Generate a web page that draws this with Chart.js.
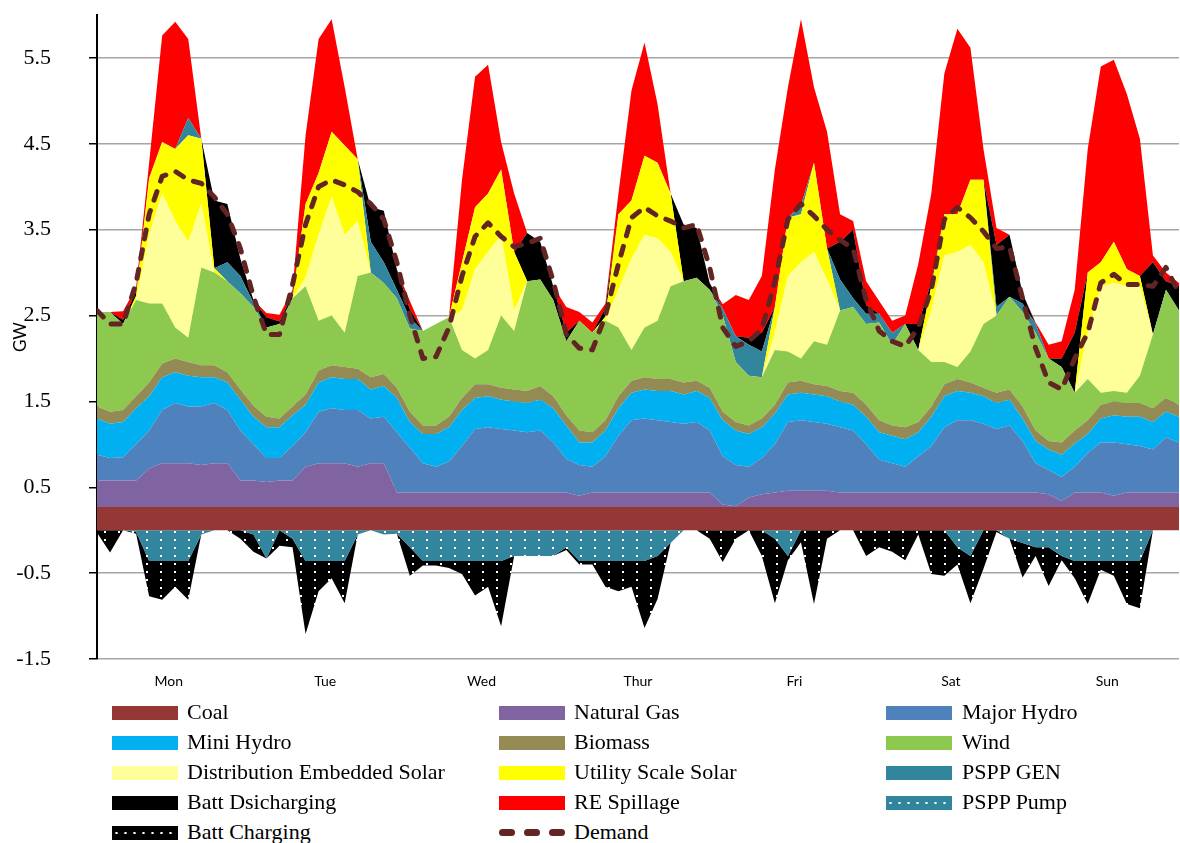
<!DOCTYPE html>
<html><head><meta charset="utf-8">
<script src="https://cdn.jsdelivr.net/npm/chart.js@4.4.1/dist/chart.umd.min.js"></script>
<style>
html,body{margin:0;padding:0;background:#fff;overflow:hidden;}
#wrap{position:relative;width:1180px;height:843px;overflow:hidden;background:#fff;}
#cw{position:absolute;left:0;top:0;width:1180px;height:700px;}
.lt{position:absolute;font-family:"Liberation Serif",serif;font-size:22px;line-height:26px;color:#000;white-space:nowrap;}
.sw{position:absolute;width:66px;height:14px;}
.dash{position:absolute;height:7px;width:16px;border-radius:4px;background:#632523;}
</style></head><body>
<div id="wrap"><div id="cw"><canvas id="c"></canvas></div><div id="legend"></div></div>
<script>
// x values: hour of week (2-hour steps)
const hours = [0,2,4,6,8,10,12,14,16,18,20,22,24,26,28,30,32,34,36,38,40,42,44,46,48,50,52,54,56,58,60,62,64,66,68,70,72,74,76,78,80,82,84,86,88,90,92,94,96,98,100,102,104,106,108,110,112,114,116,118,120,122,124,126,128,130,132,134,136,138,140,142,144,146,148,150,152,154,156,158,160,162,164,166];
const dayTickHours = [11,35,59,83,107,131,155];
const dayNames = ['Mon','Tue','Wed','Thur','Fri','Sat','Sun'];
const yTicks = [-1.5,-0.5,0.5,1.5,2.5,3.5,4.5,5.5];

const coal = [0.27,0.27,0.27,0.27,0.27,0.27,0.27,0.27,0.27,0.27,0.27,0.27,0.27,
0.27,0.27,0.27,0.27,0.27,0.27,0.27,0.27,0.27,0.27,0.27,0.27,
0.27,0.27,0.27,0.27,0.27,0.27,0.27,0.27,0.27,0.27,0.27,0.27,
0.27,0.27,0.27,0.27,0.27,0.27,0.27,0.27,0.27,0.27,0.27,0.27,
0.27,0.27,0.27,0.27,0.27,0.27,0.27,0.27,0.27,0.27,0.27,0.27,
0.27,0.27,0.27,0.27,0.27,0.27,0.27,0.27,0.27,0.27,0.27,0.27,
0.27,0.27,0.27,0.27,0.27,0.27,0.27,0.27,0.27,0.27,0.27];
const gas = [0.31,0.31,0.31,0.31,0.45,0.51,0.51,0.51,0.49,0.51,0.51,0.31,0.31,
0.29,0.31,0.31,0.47,0.51,0.51,0.51,0.47,0.51,0.51,0.17,0.17,
0.17,0.17,0.17,0.17,0.17,0.17,0.17,0.17,0.17,0.17,0.17,0.17,
0.13,0.17,0.17,0.17,0.17,0.17,0.17,0.17,0.17,0.17,0.17,0.03,
0.01,0.11,0.15,0.17,0.19,0.19,0.19,0.19,0.17,0.17,0.17,0.17,
0.17,0.17,0.17,0.17,0.17,0.17,0.17,0.17,0.17,0.17,0.17,0.17,
0.15,0.07,0.17,0.17,0.17,0.13,0.17,0.17,0.17,0.17,0.17];
const majorHydro = [0.30,0.26,0.27,0.42,0.44,0.62,0.70,0.66,0.68,0.70,0.62,0.58,0.42,
0.28,0.26,0.40,0.40,0.60,0.64,0.62,0.66,0.52,0.54,0.70,0.52,
0.34,0.30,0.36,0.54,0.74,0.76,0.74,0.72,0.70,0.72,0.58,0.39,
0.36,0.30,0.42,0.66,0.84,0.86,0.84,0.82,0.80,0.82,0.72,0.56,
0.48,0.36,0.42,0.56,0.80,0.82,0.80,0.78,0.76,0.72,0.56,0.38,
0.34,0.30,0.42,0.54,0.76,0.84,0.84,0.80,0.74,0.78,0.60,0.34,
0.28,0.28,0.30,0.46,0.58,0.62,0.56,0.54,0.50,0.64,0.58];
const miniHydro = [0.42,0.40,0.41,0.42,0.40,0.38,0.36,0.36,0.34,0.30,0.32,0.36,0.32,
0.36,0.36,0.36,0.32,0.34,0.36,0.36,0.36,0.34,0.36,0.40,0.30,
0.34,0.38,0.40,0.42,0.36,0.36,0.34,0.34,0.34,0.36,0.40,0.39,
0.26,0.28,0.30,0.32,0.32,0.34,0.34,0.36,0.34,0.36,0.38,0.42,
0.40,0.38,0.36,0.36,0.32,0.32,0.32,0.32,0.30,0.30,0.32,0.32,
0.32,0.32,0.28,0.34,0.36,0.34,0.32,0.32,0.30,0.30,0.26,0.26,
0.24,0.26,0.27,0.22,0.28,0.32,0.32,0.34,0.32,0.30,0.30];
const biomass = [0.14,0.14,0.14,0.14,0.16,0.16,0.16,0.16,0.14,0.14,0.12,0.12,0.13,
0.12,0.10,0.10,0.12,0.14,0.14,0.14,0.12,0.14,0.14,0.12,0.12,
0.10,0.10,0.12,0.14,0.16,0.14,0.14,0.14,0.14,0.16,0.14,0.12,
0.14,0.12,0.12,0.14,0.14,0.14,0.14,0.14,0.14,0.12,0.12,0.10,
0.10,0.10,0.10,0.10,0.14,0.14,0.12,0.12,0.12,0.14,0.14,0.14,
0.12,0.14,0.12,0.12,0.14,0.14,0.12,0.10,0.12,0.12,0.14,0.12,
0.10,0.14,0.15,0.16,0.16,0.16,0.16,0.16,0.16,0.16,0.14];
const wind = [1.10,1.16,1.00,1.12,0.92,0.70,0.36,0.28,1.14,1.08,1.06,1.12,1.15,
1.04,1.10,1.26,1.26,0.58,0.58,0.40,1.08,1.22,1.06,1.04,0.97,
1.10,1.18,1.16,0.56,0.30,0.40,0.84,0.68,1.28,1.24,1.12,0.86,
1.28,1.16,1.16,0.80,0.36,0.58,0.68,1.08,1.18,1.20,1.14,1.12,
0.70,0.58,0.48,0.64,0.36,0.26,0.50,0.48,0.94,1.00,0.94,1.14,
0.94,1.20,0.84,0.52,0.26,0.14,0.36,0.74,0.90,1.08,1.10,1.14,
0.96,0.88,0.44,0.48,0.14,0.12,0.12,0.32,0.86,1.26,1.10];
const distSolar = [0,0,0,0,0.80,1.28,1.24,1.12,0.74,0,0,0,0,
0,0,0,0.10,1.00,1.38,1.14,0.64,0,0,0,0,
0,0,0,0.46,1.04,1.14,0.94,0.24,0,0,0,0,
0,0,0,0.44,1.06,1.08,0.96,0.40,0,0,0,0,
0,0,0,0.20,0.88,1.12,1.04,0.76,0,0,0,0,
0,0,0,0.60,1.24,1.34,1.24,0.72,0,0,0,0,
0,0,0,0.54,1.24,1.26,1.24,1.04,0,0,0];
const utilSolar = [0,0,0,0.05,0.66,0.60,0.84,1.24,0.76,0.05,0,0,0,
0,0,0,0.86,0.72,0.76,1.04,0.72,0,0,0,0,
0,0,0,0.56,0.72,0.68,0.76,0.68,0,0,0,0,
0,0,0.05,0.88,0.68,0.92,0.88,0.68,0,0,0,0,
0,0,0,0.30,0.68,0.56,1.04,0.36,0,0,0,0,
0,0,0,0.28,0.48,0.44,0.76,0.96,0,0,0,0,
0,0,0,0.70,0.28,0.48,0.20,0.12,0,0,0];
const psppGen = [0,0,0,0,0,0,0,0.20,0,0,0.22,0.20,0.05,
0,0,0,0,0,0,0,0,0.36,0.24,0.10,0.12,
0,0,0,0,0,0,0,0,0,0,0,0,
0,0,0,0,0,0,0,0,0,0,0,0.08,
0.30,0.36,0.30,0,0,0.10,0,0,0.36,0.10,0.12,0.10,
0.14,0,0,0,0,0,0,0,0.10,0,0.10,0.10,
0,0,0,0,0,0,0,0,0,0,0];
const battDis = [0,0,0.05,0.05,0,0,0,0,0,0.79,0.68,0.20,0.03,
0.12,0.03,0.05,0,0,0,0,0,0.40,0.60,0.24,0.10,
0,0,0,0,0,0,0,0,0.56,0.44,0.16,0.10,
0,0,0.10,0,0,0,0,0,0.66,0.58,0.08,0,
0,0.08,0.22,0,0,0,0,0,0.44,0.80,0.10,0,
0,0,0.30,0.05,0,0,0,0,0.72,0.72,0.12,0,
0,0.10,0.70,0,0,0,0,0,0.84,0.10,0.28];
const reSpill = [0,0,0.10,0.05,0.18,1.24,1.48,0.92,0,0,0,0,0,
0.05,0.08,0.05,0.80,1.56,1.31,0.68,0,0,0,0,0.10,
0,0,0,0.96,1.52,1.50,0.32,0.68,0,0,0,0.30,
0.10,0.12,0.05,0.24,1.28,1.32,0.68,0,0,0,0,0.05,
0.48,0.44,0.66,1.60,1.52,2.17,0.88,1.36,0.32,0.10,0.28,0.15,
0.14,0.10,0.70,1.03,1.64,2.16,1.54,0.36,0.20,0,0,0.02,
0.16,0.20,0.50,1.44,2.28,2.12,2.04,1.60,0.08,0.10,0.04];
const psppPump = [0,0,0,-0.02,-0.36,-0.36,-0.36,-0.36,-0.05,0,0,0,-0.05,
-0.33,0,-0.10,-0.36,-0.36,-0.36,-0.36,-0.05,0,-0.05,-0.04,-0.20,
-0.36,-0.36,-0.36,-0.36,-0.36,-0.36,-0.36,-0.30,-0.30,-0.30,-0.30,-0.20,
-0.36,-0.36,-0.36,-0.36,-0.36,-0.36,-0.30,-0.15,0,0,0,0,
0,0,0,-0.10,-0.30,0,0,0,0,0,0,0,
0,0,0,0,0,-0.20,-0.30,0,0,-0.10,-0.15,-0.20,
-0.20,-0.30,-0.36,-0.36,-0.36,-0.36,-0.36,-0.36,0,0,0];
const battChg = [-0.03,-0.26,0,-0.02,-0.41,-0.45,-0.30,-0.45,0,0,0,-0.10,-0.20,
0,-0.18,-0.10,-0.85,-0.35,-0.20,-0.49,0,0,0,0,-0.33,
-0.05,-0.05,-0.08,-0.15,-0.40,-0.30,-0.76,0,0,0,0,-0.03,
-0.04,-0.04,-0.30,-0.35,-0.30,-0.78,-0.50,0,0,0,-0.10,-0.37,
-0.10,0,-0.30,-0.75,-0.05,-0.14,-0.86,-0.10,0,0,-0.30,-0.20,
-0.25,-0.35,-0.05,-0.51,-0.53,-0.20,-0.55,-0.45,-0.02,0,-0.40,-0.10,
-0.45,-0.05,-0.20,-0.50,-0.10,-0.17,-0.50,-0.55,0,0,0];
const demand = [2.56,2.40,2.40,2.88,3.68,4.12,4.18,4.08,4.04,3.88,3.68,3.28,2.72,
2.28,2.28,2.86,3.56,4.00,4.08,4.02,3.94,3.80,3.62,3.12,2.50,
2.00,2.02,2.36,2.96,3.42,3.58,3.42,3.30,3.34,3.40,2.90,2.28,
2.12,2.10,2.50,3.10,3.64,3.76,3.66,3.60,3.52,3.56,3.06,2.36,
2.14,2.20,2.34,2.90,3.62,3.80,3.66,3.50,3.38,3.28,2.68,2.32,
2.20,2.14,2.36,2.80,3.62,3.76,3.64,3.48,3.28,3.30,2.70,2.12,
1.72,1.64,2.00,2.30,2.88,2.98,2.86,2.86,2.84,3.06,2.76];

const canvas = document.getElementById('c');
const ctx = canvas.getContext('2d');
function dotPattern(bg){
  const t = document.createElement('canvas'); t.width = 14; t.height = 8;
  const g = t.getContext('2d'); g.fillStyle = bg; g.fillRect(0,0,14,8);
  g.fillStyle = '#ffffff'; g.fillRect(6,3,2,2);
  return ctx.createPattern(t,'repeat');
}
const pts = arr => hours.map((h,i)=>({x:h, y:arr[i]}));
function area(label, arr, color, stack, fill){
  return {type:'line', label, data:pts(arr), backgroundColor:color, borderColor:'rgba(0,0,0,0)', borderWidth:0,
    pointRadius:0, pointHoverRadius:0, fill, stack, tension:0};
}
const datasets = [
  {type:'line', label:'Demand', data:pts(demand), borderColor:'#632523', backgroundColor:'#632523', borderWidth:5,
   borderDash:[9,11], borderCapStyle:'round', borderJoinStyle:'round', pointRadius:0, fill:false, stack:'dem', tension:0},
  area('Coal', coal, '#953735', 'pos', 'origin'),
  area('Natural Gas', gas, '#8064A2', 'pos', '-1'),
  area('Major Hydro', majorHydro, '#4F81BD', 'pos', '-1'),
  area('Mini Hydro', miniHydro, '#00B0F0', 'pos', '-1'),
  area('Biomass', biomass, '#948A54', 'pos', '-1'),
  area('Wind', wind, '#8DC94E', 'pos', '-1'),
  area('Distribution Embedded Solar', distSolar, '#FFFF99', 'pos', '-1'),
  area('Utility Scale Solar', utilSolar, '#FFFF00', 'pos', '-1'),
  area('PSPP GEN', psppGen, '#31859C', 'pos', '-1'),
  area('Batt Dsicharging', battDis, '#000000', 'pos', '-1'),
  area('RE Spillage', reSpill, '#FF0000', 'pos', '-1'),
  area('PSPP Pump', psppPump, dotPattern('#31859C'), 'neg', 'origin'),
  area('Batt Charging', battChg, dotPattern('#000000'), 'neg', '-1')
];

new Chart(ctx, {
  type:'line',
  data:{datasets},
  options:{
    responsive:true, maintainAspectRatio:false, animation:false,
    layout:{padding:{top:15,right:1,left:0,bottom:0}},
    plugins:{legend:{display:false}, tooltip:{enabled:false}},
    scales:{
      x:{type:'linear', min:0, max:166,
        afterBuildTicks:s=>{s.ticks = dayTickHours.map(v=>({value:v}));},
        afterFit:s=>{s.height = 41; s.paddingLeft = 0; s.paddingRight = 0;},
        ticks:{autoSkip:false, maxRotation:0, color:'#000', font:{family:'Lato', size:14}, padding:14,
          callback:(v)=>dayNames[dayTickHours.indexOf(v)]},
        grid:{display:false, drawTicks:false}, border:{display:false}},
      y:{stacked:true, min:-1.5, max:6,
        afterBuildTicks:s=>{s.ticks = yTicks.map(v=>({value:v}));},
        afterFit:s=>{s.width = 97; s.paddingTop = 0; s.paddingBottom = 0;},
        ticks:{color:'#000', font:{family:'Liberation Serif', size:22}, padding:38, callback:v=>String(v)},
        grid:{color:'#a6a6a6', lineWidth:1.5, drawTicks:true, tickLength:8, tickColor:'#000', tickWidth:1.5},
        border:{display:true, color:'#000', width:2},
        title:{display:true, text:'GW', color:'#000', font:{family:'Lato', size:17}, padding:{top:10,bottom:0}}}
    }
  }
});

// HTML legend in three columns
const legendItems = [
  ['Coal','#953735'],['Natural Gas','#8064A2'],['Major Hydro','#4F81BD'],
  ['Mini Hydro','#00B0F0'],['Biomass','#948A54'],['Wind','#8DC94E'],
  ['Distribution Embedded Solar','#FFFF99'],['Utility Scale Solar','#FFFF00'],['PSPP GEN','#31859C'],
  ['Batt Dsicharging','#000000'],['RE Spillage','#FF0000'],['PSPP Pump','dots:#31859C'],
  ['Batt Charging','dots:#000000'],['Demand','dash']
];
const swX = [112,499,886], txX = [187,574,962], rowY = [713,743,773,803,833];
const lg = document.getElementById('legend');
legendItems.forEach((it,k)=>{
  const col = k%3, row = Math.floor(k/3);
  const cy = rowY[row];
  if (it[1]==='dash'){
    [0,25,50].forEach(o=>{const d=document.createElement('div'); d.className='dash'; d.style.left=(swX[col]+o)+'px'; d.style.top=(cy-4)+'px'; lg.appendChild(d);});
  } else {
    const s = document.createElement('div'); s.className='sw';
    s.style.left = swX[col]+'px'; s.style.top = (cy-7)+'px';
    if (it[1].startsWith('dots:')){
      s.style.backgroundColor = it[1].slice(5);
      s.style.backgroundImage = 'radial-gradient(circle, #fff 1px, transparent 1.3px)';
      s.style.backgroundSize = '9px 14px';
    } else s.style.background = it[1];
    lg.appendChild(s);
  }
  const t = document.createElement('div'); t.className='lt'; t.textContent = it[0];
  t.style.left = txX[col]+'px'; t.style.top = (cy-14)+'px';
  lg.appendChild(t);
});
</script></body></html>
